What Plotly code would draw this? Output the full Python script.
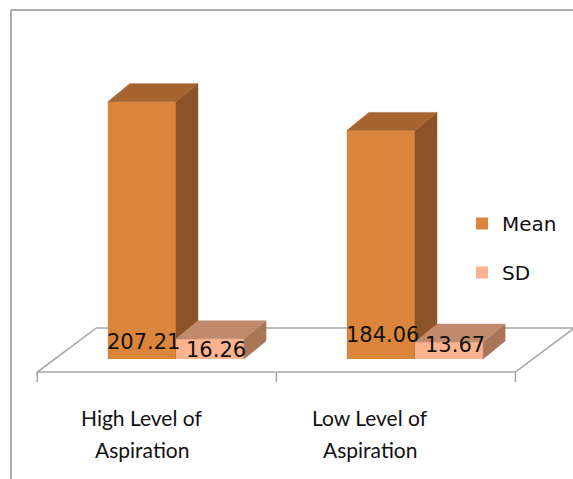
import plotly.graph_objects as go

# ---- data ----
categories = ["High Level of<br>Aspiration", "Low Level of<br>Aspiration"]
mean_vals = [207.21, 184.06]
sd_vals = [16.26, 13.67]
value_labels_mean = ["207.21", "184.06"]
value_labels_sd = ["16.26", "13.67"]

# ---- styling / geometry constants ----
W = 0.285          # bar front width (category units)
DX, DY = 0.092, 14.5   # bar depth offset
XR = [-0.736, 1.661]
YR = [-96.6, 289.05]
FLOOR_FRONT_Y, FLOOR_BACK_Y = -10.5, 25
FLOOR_DX = 0.247
FLOOR_LEFT = -0.58
TICK_LEN = 8
LABEL_X = [-0.142, 0.812]
LABEL_LINE_Y = [417, 449]   # pixel rows of category label lines
MEAN_LABEL_Y = [13.7, 19.3]
SD_LABEL_Y = [7.2, 11.3]
MEAN_LABEL_DX = 0.008
SD_LABEL_DX = 0.025

C_MEAN = dict(front="#DA853B", side="#8C5328", top="#A66430")
C_SD = dict(front="#FAB38E", side="#A97758", top="#C08B6C")

fig = go.Figure()


def faces(x0, x1, v, colors, xa, ya):
    side_x = [x1, x1, x1 + DX, x1 + DX, x1]
    side_y = [0, v, v + DY, DY, 0]
    top_x = [x0, x1, x1 + DX, x0 + DX, x0]
    top_y = [v, v, v + DY, v + DY, v]
    for xs, ys, c in ((side_x, side_y, colors["side"]), (top_x, top_y, colors["top"])):
        fig.add_trace(go.Scatter(x=xs, y=ys, fill="toself", fillcolor=c, mode="lines",
                                 line=dict(color=c, width=0.5), showlegend=False,
                                 hoverinfo="skip", xaxis=xa, yaxis=ya))


xs = list(range(len(categories)))

# Mean series (base subplot)
fig.add_trace(go.Bar(x=xs, y=mean_vals, width=W, offset=-W, name="Mean",
                     marker=dict(color=C_MEAN["front"], line=dict(width=0)),
                     legendgroup="m", xaxis="x", yaxis="y"))
for i, v in enumerate(mean_vals):
    faces(i - W, i, v, C_MEAN, "x", "y")

# SD series (overlay subplot, drawn on top)
fig.add_trace(go.Bar(x=xs, y=sd_vals, width=W, offset=0, name="SD",
                     marker=dict(color=C_SD["front"], line=dict(width=0)),
                     legendgroup="s", xaxis="x2", yaxis="y2"))
for i, v in enumerate(sd_vals):
    faces(i, i + W, v, C_SD, "x2", "y2")

# floor (below traces)
n = len(categories)
fl, fr = FLOOR_LEFT, FLOOR_LEFT + n
floor_path = (f"M{fl},{FLOOR_FRONT_Y} L{fr},{FLOOR_FRONT_Y} "
              f"L{fr + FLOOR_DX},{FLOOR_BACK_Y} L{fl + FLOOR_DX},{FLOOR_BACK_Y} Z")
shapes = [dict(type="path", path=floor_path, xref="x", yref="y", layer="below",
               line=dict(color="#A6A6A6", width=1.5), fillcolor="white")]
for k in range(n + 1):
    shapes.append(dict(type="line", xref="x", yref="y", layer="below",
                       x0=fl + k, x1=fl + k, y0=FLOOR_FRONT_Y, y1=FLOOR_FRONT_Y - TICK_LEN,
                       line=dict(color="#A6A6A6", width=1.5)))
# outer frame
fx, fy = 11 / 573, 1 - 10 / 479
shapes.append(dict(type="line", xref="paper", yref="paper", x0=fx, x1=1.01, y0=fy, y1=fy,
                   line=dict(color="#ABABAB", width=2)))
shapes.append(dict(type="line", xref="paper", yref="paper", x0=fx, x1=fx, y0=fy, y1=-0.01,
                   line=dict(color="#ABABAB", width=2)))

annotations = []
vfont = dict(family="DejaVu Sans", size=21, color="#111111")
for i in range(n):
    annotations.append(dict(x=i - W / 2 + MEAN_LABEL_DX, y=MEAN_LABEL_Y[i], xref="x", yref="y",
                            text=value_labels_mean[i], showarrow=False, font=vfont))
    annotations.append(dict(x=i + W / 2 + SD_LABEL_DX, y=SD_LABEL_Y[i], xref="x", yref="y",
                            text=value_labels_sd[i], showarrow=False, font=vfont))
    for line, py in zip(categories[i].split("<br>"), LABEL_LINE_Y):
        annotations.append(dict(x=LABEL_X[i], y=1 - py / 479, xref="x", yref="paper",
                                text=line, showarrow=False, yanchor="middle",
                                font=dict(family="Lato", size=21, color="#111111")))

ax = dict(range=XR, visible=False, fixedrange=True)
ay = dict(range=YR, visible=False, fixedrange=True)
fig.update_layout(
    width=573, height=479, margin=dict(l=0, r=0, t=0, b=0),
    paper_bgcolor="white", plot_bgcolor="white",
    barmode="overlay",
    xaxis=dict(**ax, domain=[0, 1]),
    yaxis=dict(**ay, domain=[0, 1]),
    xaxis2=dict(**ax, overlaying="x", anchor="y2"),
    yaxis2=dict(**ay, overlaying="y", anchor="x2"),
    shapes=shapes, annotations=annotations,
    legend=dict(x=462 / 573, y=1 - 204 / 479, xanchor="left", yanchor="top",
                font=dict(family="DejaVu Sans", size=20, color="#111111"),
                tracegroupgap=20, bgcolor="rgba(0,0,0,0)"),
    showlegend=True,
)

fig.write_html("out.html")
